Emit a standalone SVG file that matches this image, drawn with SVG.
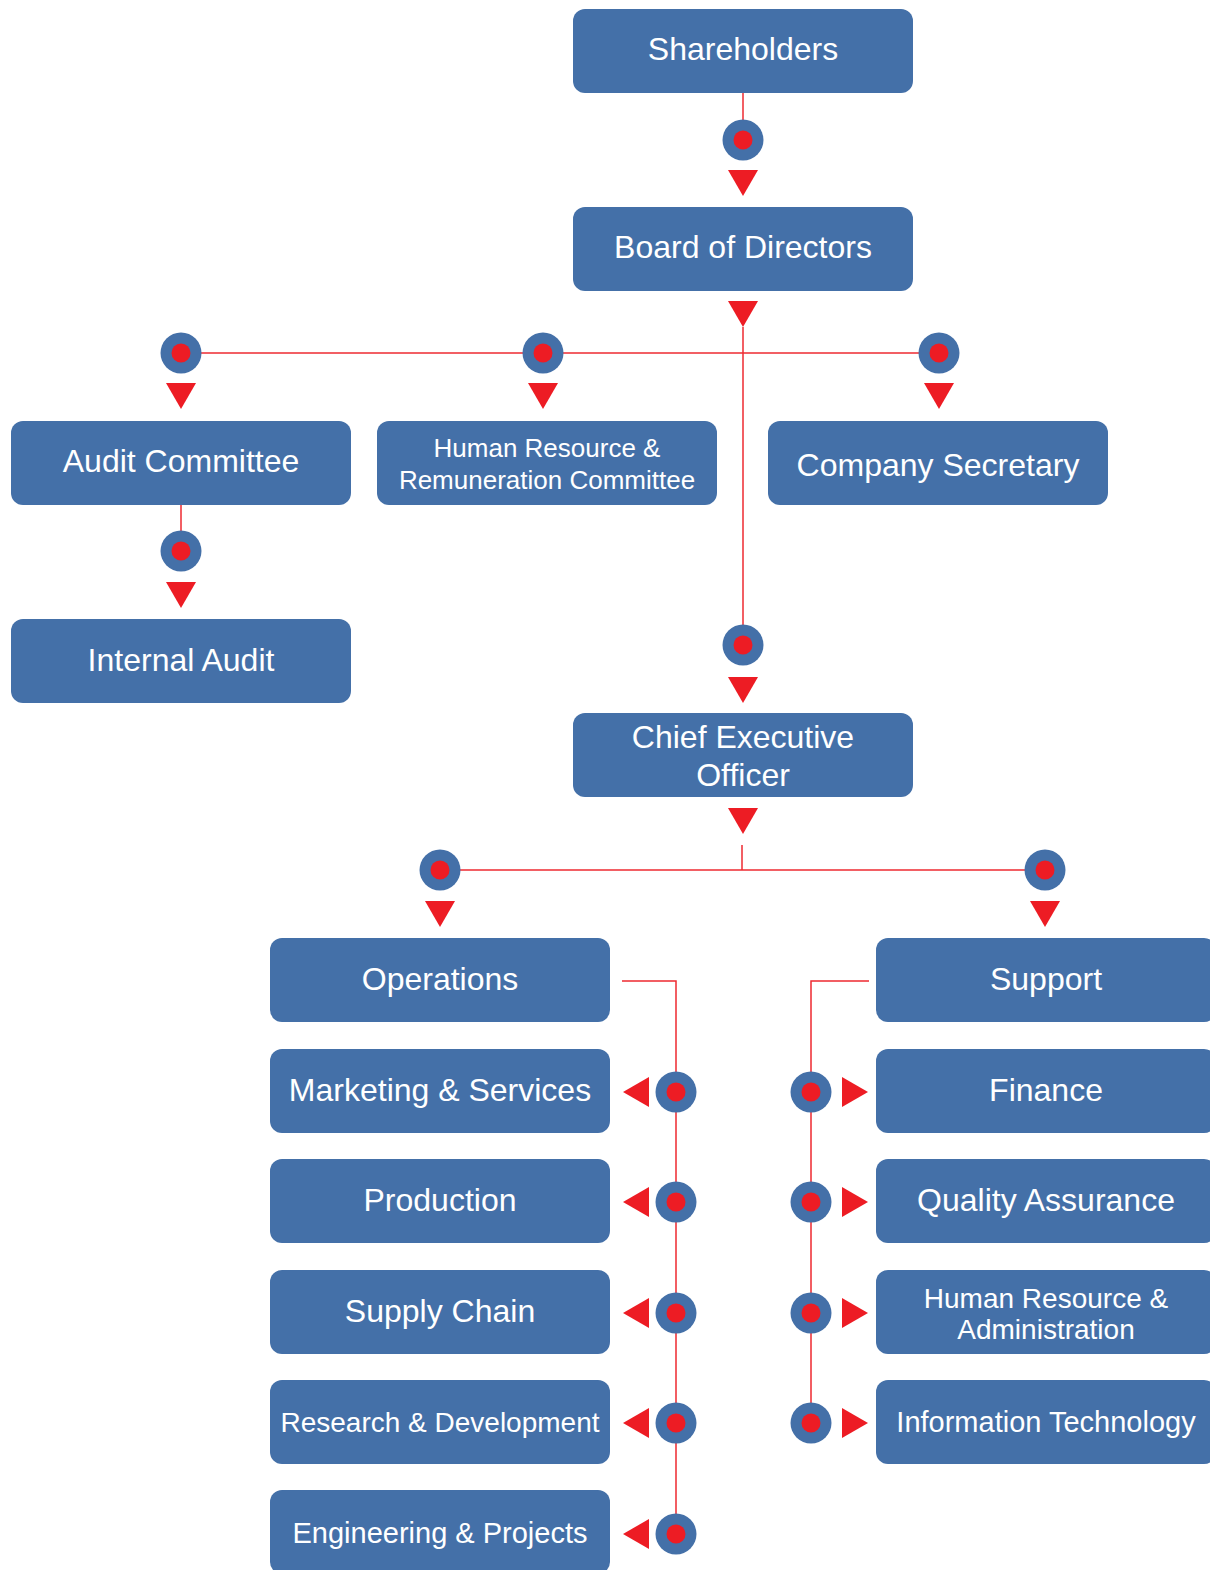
<svg xmlns="http://www.w3.org/2000/svg" width="1210" height="1570" viewBox="0 0 1210 1570">
<defs>
<style>
.box{fill:#4470A8;}
.t{fill:#ffffff;font-family:"Liberation Sans",Arial,Helvetica,sans-serif;font-size:32px;text-anchor:middle;}
.s26{font-size:26px;}
.s28{font-size:28px;}
.s29{font-size:29px;}
.ln{stroke:#EE2A30;stroke-width:1.5;fill:none;}
.tri{fill:#ED1C24;}
.co{fill:#4470A8;}
.ci{fill:#ED1C24;}
</style>
<g id="dot"><circle class="co" r="20.5"/><circle class="ci" r="9.5"/></g>
<polygon id="down" class="tri" points="-15,0 15,0 0,26"/>
<polygon id="left" class="tri" points="0,0 26,-15 26,15"/>
<polygon id="right" class="tri" points="26,0 0,-15 0,15"/>
</defs>
<rect width="1210" height="1570" fill="#ffffff"/>
<g id="connectors">
<path class="ln" d="M743,93V125"/>
<path class="ln" d="M181,353H939"/>
<path class="ln" d="M743,327V630"/>
<path class="ln" d="M181,505V535"/>
<path class="ln" d="M742,845V870"/>
<path class="ln" d="M440,870H1045"/>
<path class="ln" d="M622,981H676V1534"/>
<path class="ln" d="M869,981H811V1423"/>
<use href="#dot" x="743" y="140"/>
<use href="#dot" x="181" y="353"/>
<use href="#dot" x="543" y="353"/>
<use href="#dot" x="939" y="353"/>
<use href="#dot" x="181" y="551"/>
<use href="#dot" x="743" y="645"/>
<use href="#dot" x="440" y="870"/>
<use href="#dot" x="1045" y="870"/>
<use href="#dot" x="676" y="1092"/>
<use href="#dot" x="676" y="1202"/>
<use href="#dot" x="676" y="1313"/>
<use href="#dot" x="676" y="1423"/>
<use href="#dot" x="676" y="1534"/>
<use href="#dot" x="811" y="1092"/>
<use href="#dot" x="811" y="1202"/>
<use href="#dot" x="811" y="1313"/>
<use href="#dot" x="811" y="1423"/>
<use href="#down" x="743" y="170"/>
<use href="#down" x="743" y="301"/>
<use href="#down" x="181" y="383"/>
<use href="#down" x="543" y="383"/>
<use href="#down" x="939" y="383"/>
<use href="#down" x="181" y="582"/>
<use href="#down" x="743" y="677"/>
<use href="#down" x="743" y="808"/>
<use href="#down" x="440" y="901"/>
<use href="#down" x="1045" y="901"/>
<use href="#left" x="623" y="1092"/>
<use href="#left" x="623" y="1202"/>
<use href="#left" x="623" y="1313"/>
<use href="#left" x="623" y="1423"/>
<use href="#left" x="623" y="1534"/>
<use href="#right" x="842" y="1092"/>
<use href="#right" x="842" y="1202"/>
<use href="#right" x="842" y="1313"/>
<use href="#right" x="842" y="1423"/>
</g>
<g id="shareholders"><rect class="box" x="573" y="9" width="340" height="84" rx="12"/><text class="t" x="743" y="60">Shareholders</text></g>
<g id="board"><rect class="box" x="573" y="207" width="340" height="84" rx="12"/><text class="t" x="743" y="258">Board of Directors</text></g>
<g id="audit-committee"><rect class="box" x="11" y="421" width="340" height="84" rx="12"/><text class="t" x="181" y="472">Audit Committee</text></g>
<g id="hrr-committee"><rect class="box" x="377" y="421" width="340" height="84" rx="12"/><text class="t s26" x="547" y="457">Human Resource &amp;</text><text class="t s26" x="547" y="489">Remuneration Committee</text></g>
<g id="company-secretary"><rect class="box" x="768" y="421" width="340" height="84" rx="12"/><text class="t" x="938" y="476">Company Secretary</text></g>
<g id="internal-audit"><rect class="box" x="11" y="619" width="340" height="84" rx="12"/><text class="t" x="181" y="671">Internal Audit</text></g>
<g id="ceo"><rect class="box" x="573" y="713" width="340" height="84" rx="12"/><text class="t" x="743" y="748">Chief Executive</text><text class="t" x="743" y="786">Officer</text></g>
<g id="operations"><rect class="box" x="270" y="938" width="340" height="84" rx="12"/><text class="t" x="440" y="990">Operations</text></g>
<g id="marketing"><rect class="box" x="270" y="1049" width="340" height="84" rx="12"/><text class="t" x="440" y="1101">Marketing &amp; Services</text></g>
<g id="production"><rect class="box" x="270" y="1159" width="340" height="84" rx="12"/><text class="t" x="440" y="1211">Production</text></g>
<g id="supply-chain"><rect class="box" x="270" y="1270" width="340" height="84" rx="12"/><text class="t" x="440" y="1322">Supply Chain</text></g>
<g id="rnd"><rect class="box" x="270" y="1380" width="340" height="84" rx="12"/><text class="t s28" x="440" y="1432">Research &amp; Development</text></g>
<g id="engineering"><rect class="box" x="270" y="1490" width="340" height="84" rx="12"/><text class="t s29" x="440" y="1543">Engineering &amp; Projects</text></g>
<g id="support"><rect class="box" x="876" y="938" width="340" height="84" rx="12"/><text class="t" x="1046" y="990">Support</text></g>
<g id="finance"><rect class="box" x="876" y="1049" width="340" height="84" rx="12"/><text class="t" x="1046" y="1101">Finance</text></g>
<g id="quality"><rect class="box" x="876" y="1159" width="340" height="84" rx="12"/><text class="t" x="1046" y="1211">Quality Assurance</text></g>
<g id="hra"><rect class="box" x="876" y="1270" width="340" height="84" rx="12"/><text class="t s28" x="1046" y="1308">Human Resource &amp;</text><text class="t s28" x="1046" y="1339">Administration</text></g>
<g id="it"><rect class="box" x="876" y="1380" width="340" height="84" rx="12"/><text class="t s29" x="1046" y="1432">Information Technology</text></g>
</svg>
